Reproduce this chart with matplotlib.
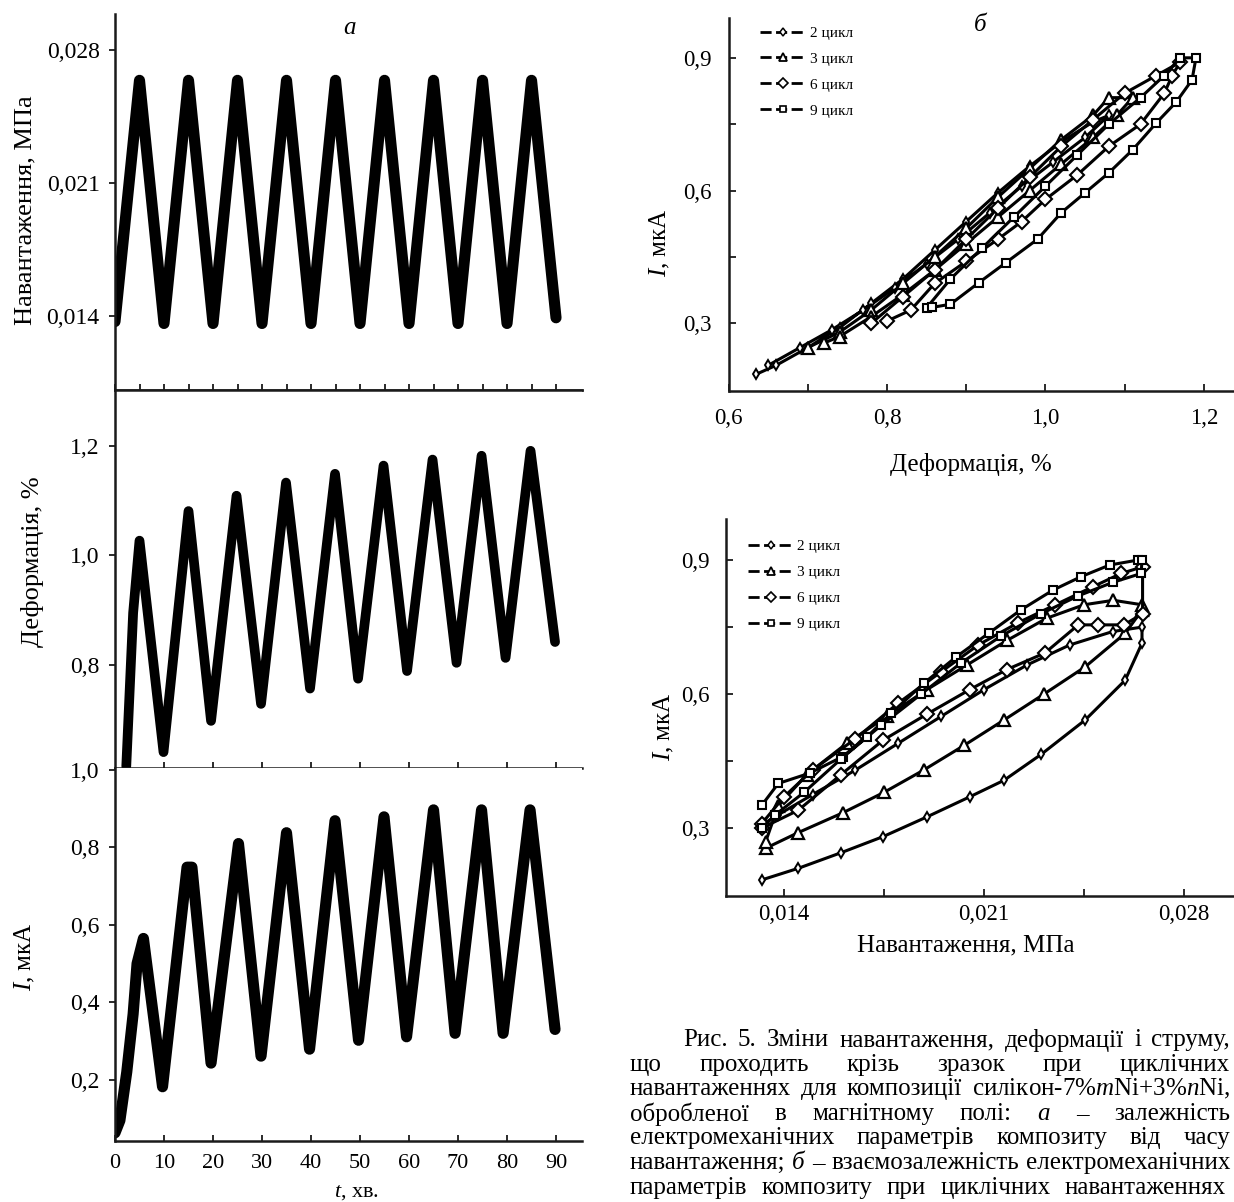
import matplotlib
matplotlib.use('Agg')
import matplotlib.pyplot as plt
from matplotlib.lines import Line2D

plt.rcParams['font.family'] = ['Liberation Serif', 'DejaVu Serif']
plt.rcParams['mathtext.fontset'] = 'custom'
plt.rcParams['mathtext.rm'] = 'Liberation Serif'
plt.rcParams['mathtext.it'] = 'Liberation Serif:italic'

W, H = 1234, 1202

# --- a: time series -------------------------------------------------------
t_load = [0, 5, 10, 15, 20, 25, 30, 35, 40, 45, 50, 55, 60, 65, 70, 75, 80, 85, 90]
load = [0.0137, 0.0264, 0.0136, 0.0264, 0.0136, 0.0264, 0.0136, 0.0264, 0.0136, 0.0264,
        0.0136, 0.0264, 0.0136, 0.0264, 0.0136, 0.0264, 0.0136, 0.0264, 0.0139]

t_def = [2.3, 3.7, 5.0, 9.9, 15.0, 19.6, 24.8, 29.8, 34.9, 39.8, 44.9, 49.6, 54.8,
         59.6, 64.8, 69.7, 74.8, 79.7, 84.8, 89.8]
deform = [0.615, 0.895, 1.027, 0.641, 1.081, 0.698, 1.109, 0.729, 1.133, 0.757, 1.149,
          0.775, 1.164, 0.789, 1.175, 0.804, 1.182, 0.813, 1.191, 0.842]

t_cur = [0, 1.0, 2.4, 3.7, 4.5, 5.8, 9.7, 14.7, 15.7, 19.6, 25.2, 29.8, 35.0, 39.7,
         44.9, 49.7, 54.9, 59.5, 65.0, 69.4, 74.8, 79.2, 84.7, 89.8]
current = [0.063, 0.095, 0.22, 0.37, 0.50, 0.565, 0.182, 0.749, 0.749, 0.243, 0.810,
           0.261, 0.838, 0.279, 0.869, 0.302, 0.879, 0.311, 0.897, 0.320, 0.897, 0.320,
           0.897, 0.33]

t_ticks = [0, 10, 20, 30, 40, 50, 60, 70, 80, 90]
t_minor = [0, 5, 10, 15, 20, 25, 30, 35, 40, 45, 50, 55, 60, 65, 70, 75, 80, 85, 90]
load_ticks = [0.014, 0.021, 0.028]
load_labels = ['0,014', '0,021', '0,028']
def_ticks = [0.8, 1.0, 1.2]
def_labels = ['0,8', '1,0', '1,2']
cur_ticks = [0.2, 0.4, 0.6, 0.8, 1.0]
cur_labels = ['0,2', '0,4', '0,6', '0,8', '1,0']

# --- б: I vs strain (loops: rising branch + falling branch) ---------------
eps_c2 = [0.635, 0.66, 0.70, 0.74, 0.78, 0.82, 0.86, 0.90, 0.94, 0.98, 1.02, 1.06, 1.08,
          1.05, 1.01, 0.97, 0.93, 0.89, 0.85, 0.81, 0.77, 0.73, 0.69, 0.65]
ie_c2 = [0.185, 0.205, 0.245, 0.29, 0.345, 0.40, 0.465, 0.53, 0.595, 0.655, 0.71, 0.755, 0.77,
         0.72, 0.665, 0.61, 0.55, 0.49, 0.435, 0.38, 0.33, 0.285, 0.245, 0.205]
eps_c3 = [0.70, 0.74, 0.78, 0.82, 0.86, 0.90, 0.94, 0.98, 1.02, 1.06, 1.08, 1.11,
          1.09, 1.06, 1.02, 0.98, 0.94, 0.90, 0.86, 0.82, 0.78, 0.74, 0.72]
ie_c3 = [0.245, 0.28, 0.33, 0.39, 0.45, 0.515, 0.585, 0.65, 0.715, 0.77, 0.81, 0.81,
         0.77, 0.72, 0.66, 0.60, 0.54, 0.48, 0.42, 0.365, 0.315, 0.27, 0.255]
eps_c6 = [0.78, 0.82, 0.86, 0.90, 0.94, 0.98, 1.02, 1.06, 1.10, 1.14, 1.17,
          1.16, 1.15, 1.12, 1.08, 1.04, 1.00, 0.97, 0.94, 0.90, 0.86, 0.83, 0.80]
ie_c6 = [0.30, 0.36, 0.42, 0.49, 0.56, 0.63, 0.70, 0.76, 0.82, 0.86, 0.89,
         0.86, 0.82, 0.75, 0.70, 0.635, 0.58, 0.53, 0.49, 0.44, 0.39, 0.33, 0.305]
eps_c9 = [0.85, 0.88, 0.92, 0.96, 1.00, 1.04, 1.08, 1.12, 1.15, 1.17, 1.19,
          1.185, 1.165, 1.14, 1.11, 1.08, 1.05, 1.02, 0.99, 0.95, 0.916, 0.88, 0.857]
ie_c9 = [0.335, 0.40, 0.47, 0.54, 0.61, 0.68, 0.75, 0.81, 0.86, 0.90, 0.90,
         0.85, 0.80, 0.753, 0.692, 0.64, 0.595, 0.55, 0.49, 0.437, 0.392, 0.343, 0.336]

# --- б: I vs load ----------------------------------------------------------
p_c2 = [0.01322, 0.0145, 0.0160, 0.01747, 0.0190, 0.0205, 0.0217, 0.0230, 0.02454, 0.02594, 0.02653,
        0.02653, 0.0255, 0.0240, 0.0225, 0.0210, 0.0195, 0.0180, 0.0165, 0.0150, 0.0138, 0.0133]
ip_c2 = [0.184, 0.21, 0.245, 0.281, 0.325, 0.37, 0.407, 0.465, 0.542, 0.631, 0.714,
         0.75, 0.74, 0.71, 0.665, 0.61, 0.55, 0.49, 0.43, 0.375, 0.33, 0.31]
p_c3 = [0.01336, 0.0145, 0.01605, 0.0175, 0.01889, 0.0203, 0.0217, 0.0231, 0.02454, 0.02594, 0.02653,
        0.02653, 0.02553, 0.0245, 0.0232, 0.0218, 0.0204, 0.0190, 0.0176, 0.0162, 0.0148, 0.0138, 0.01336]
ip_c3 = [0.255, 0.29, 0.334, 0.38, 0.43, 0.485, 0.542, 0.60, 0.661, 0.736, 0.788,
         0.80, 0.81, 0.80, 0.77, 0.72, 0.665, 0.61, 0.55, 0.49, 0.42, 0.35, 0.27]
p_c6 = [0.01322, 0.0145, 0.0160, 0.01747, 0.0190, 0.0205, 0.0218, 0.02313, 0.0243, 0.0250, 0.0259, 0.02655,
        0.02655, 0.0258, 0.0248, 0.0235, 0.0222, 0.0208, 0.0195, 0.0180, 0.0165, 0.0150, 0.0140, 0.01322]
ip_c6 = [0.30, 0.34, 0.42, 0.497, 0.555, 0.61, 0.655, 0.692, 0.755, 0.755, 0.755, 0.78,
         0.885, 0.87, 0.84, 0.80, 0.76, 0.71, 0.65, 0.58, 0.50, 0.43, 0.37, 0.31]
p_c9 = [0.01322, 0.0138, 0.0149, 0.01605, 0.0169, 0.01775, 0.01889, 0.02002, 0.02116, 0.02228, 0.02342,
        0.0244, 0.0254, 0.02638, 0.02653,
        0.0265, 0.0255, 0.0243, 0.0230, 0.0216, 0.0202, 0.0188, 0.0174, 0.0160, 0.0147, 0.0137, 0.01322]
ip_c9 = [0.351, 0.40, 0.423, 0.46, 0.504, 0.557, 0.624, 0.683, 0.736, 0.788, 0.833,
         0.863, 0.889, 0.90, 0.90,
         0.87, 0.85, 0.82, 0.78, 0.73, 0.67, 0.60, 0.53, 0.455, 0.38, 0.33, 0.30]

cycle_labels = ['2 цикл', '3 цикл', '6 цикл', '9 цикл']
eps_ticks = [0.6, 0.8, 1.0, 1.2]
eps_labels = ['0,6', '0,8', '1,0', '1,2']
eps_minor = [0.7, 0.9, 1.1]
i_ticks = [0.3, 0.6, 0.9]
i_labels = ['0,3', '0,6', '0,9']
i_minor = [0.45, 0.75]
p_ticks = [0.014, 0.021, 0.028]
p_labels = ['0,014', '0,021', '0,028']
p_minor = [0.0175, 0.0245]

caption = [
    'Рис. 5. Зміни навантаження, деформації і струму,',
    'що проходить крізь зразок при циклічних',
    'навантаженнях для композиції силікон-7%$m$Ni+3%$n$Ni,',
    'обробленої в магнітному полі: _а_ – залежність',
    'електромеханічних параметрів композиту від часу',
    'навантаження; _б_ – взаємозалежність електромеханічних',
    'параметрів композиту при циклічних навантаженнях',
]

INK = '#1a1a1a'
SPW = 1.8


def add_px_axes(fig, x0, y0, x1, y1):
    return fig.add_axes([x0 / W, 1 - y1 / H, (x1 - x0) / W, (y1 - y0) / H])


def style_left(ax, top=False):
    for s in ['top', 'right']:
        ax.spines[s].set_visible(False)
    if top:
        ax.spines['top'].set_visible(True)
    for s in ax.spines.values():
        s.set_linewidth(SPW)
        s.set_color(INK)
    ax.tick_params(axis='y', direction='out', length=4, width=1.3, pad=7,
                   labelsize=17, color=INK)
    ax.tick_params(axis='x', direction='in', length=4, width=1.3, color=INK)


def style_right(ax):
    for s in ['top', 'right']:
        ax.spines[s].set_visible(False)
    for s in ax.spines.values():
        s.set_linewidth(SPW)
        s.set_color(INK)
    ax.tick_params(which='both', direction='in', length=5, width=1.3, color=INK, labelsize=16.5)
    ax.tick_params(axis='y', which='both', pad=12)


fig = plt.figure(figsize=(W / 100, H / 100), dpi=100)

# top-left: load vs time
ax1 = add_px_axes(fig, 115, 14, 582, 390)
ax1.plot(t_load, load, color='k', lw=8, solid_joinstyle='round', solid_capstyle='round')
ax1.set_xlim(0, 95.3)
ax1.set_ylim(0.0101, 0.02989)
ax1.set_yticks(load_ticks)
ax1.set_yticklabels(load_labels)
ax1.set_xticks(t_minor)
ax1.set_xticklabels([])
style_left(ax1)

# middle-left: strain vs time
ax2 = add_px_axes(fig, 115, 390, 582, 768)
ax2.plot(t_def, deform, color='k', lw=7, solid_joinstyle='round', solid_capstyle='round')
ax2.set_xlim(0, 95.3)
ax2.set_ylim(0.612, 1.302)
ax2.set_yticks(def_ticks)
ax2.set_yticklabels(def_labels)
ax2.set_xticks(t_ticks[1:])
ax2.set_xticklabels([])
style_left(ax2, top=True)

# bottom-left: current vs time
ax3 = add_px_axes(fig, 115, 768, 582, 1141)
ax3.plot(t_cur, current, color='k', lw=8, solid_joinstyle='round', solid_capstyle='round')
ax3.set_xlim(0, 95.3)
ax3.set_ylim(0.042, 1.005)
ax3.set_yticks(cur_ticks)
ax3.set_yticklabels(cur_labels)
ax3.set_xticks(t_ticks)
ax3.set_xticklabels([str(t) for t in t_ticks])
style_left(ax3)
ax3.tick_params(axis='x', labelsize=16, pad=9)

markers = [dict(marker='d', ms=5.5, mfc='white', mew=1.4),
           dict(marker='^', ms=8, mfc='white', mew=1.6),
           dict(marker='D', ms=7, mfc='white', mew=1.5),
           dict(marker='s', ms=5.5, mfc='white', mew=1.5)]

# top-right: current vs strain
ax4 = add_px_axes(fig, 728.6, 18, 1234, 391)
for xs, ys, mk in zip([eps_c2, eps_c3, eps_c6, eps_c9], [ie_c2, ie_c3, ie_c6, ie_c9], markers):
    ax4.plot(xs, ys, color='k', lw=2.2, mec='k', **mk)
ax4.set_xlim(0.6, 1.238)
ax4.set_ylim(0.147, 0.990)
ax4.set_xticks(eps_ticks)
ax4.set_xticklabels(eps_labels)
ax4.set_xticks(eps_minor, minor=True)
ax4.set_yticks(i_ticks)
ax4.set_yticklabels(i_labels)
ax4.set_yticks(i_minor, minor=True)
style_right(ax4)
ax4.tick_params(axis='x', which='both', pad=12)

# bottom-right: current vs load
ax5 = add_px_axes(fig, 726, 519, 1234, 896)
for xs, ys, mk in zip([p_c2, p_c3, p_c6, p_c9], [ip_c2, ip_c3, ip_c6, ip_c9], markers):
    ax5.plot(xs, ys, color='k', lw=2.2, mec='k', **mk)
ax5.set_xlim(0.01197, 0.02975)
ax5.set_ylim(0.148, 0.992)
ax5.set_xticks(p_ticks)
ax5.set_xticklabels(p_labels)
ax5.set_xticks(p_minor, minor=True)
ax5.set_yticks(i_ticks)
ax5.set_yticklabels(i_labels)
ax5.set_yticks(i_minor, minor=True)
style_right(ax5)
ax5.tick_params(axis='x', which='both', pad=6)

legend_marks = [dict(marker='d', ms=4.5, mfc='white', mew=1.1),
                dict(marker='^', ms=6, mfc='white', mew=1.3),
                dict(marker='D', ms=5.5, mfc='white', mew=1.2),
                dict(marker='s', ms=4.5, mfc='white', mew=1.2)]
for ax, anchor in [(ax4, (0.062, 0.978)), (ax5, (0.043, 0.945))]:
    handles = [Line2D([], [], color='k', lw=2, ls=(0, (4, 1.6)), mec='k', **mk) for mk in legend_marks]
    ax.legend(handles, cycle_labels, loc='upper left', bbox_to_anchor=anchor, frameon=False,
              fontsize=11, handlelength=3.0, handletextpad=0.25, labelspacing=0.8,
              borderpad=0, borderaxespad=0)

# panel letters and axis titles
fig.text(350 / W, 1 - 28 / H, 'а', style='italic', fontsize=18, ha='center', va='center')
fig.text(980 / W, 1 - 25 / H, 'б', style='italic', fontsize=18, ha='center', va='center')
fig.text(25 / W, 1 - 210 / H, 'Навантаження, МПа', rotation=90, fontsize=19, ha='center', va='center')
fig.text(33 / W, 1 - 562 / H, 'Деформація, %', rotation=90, fontsize=19, ha='center', va='center')
fig.text(25 / W, 1 - 957 / H, '$I$, мкА', rotation=90, fontsize=18, ha='center', va='center')
fig.text(357 / W, 1 - 1193 / H, '$t$, хв.', fontsize=16, ha='center', va='center')
fig.text(660 / W, 1 - 243 / H, '$I$, мкА', rotation=90, fontsize=18, ha='center', va='center')
fig.text(971 / W, 1 - 465 / H, 'Деформація, %', fontsize=18, ha='center', va='center')
fig.text(664 / W, 1 - 727 / H, '$I$, мкА', rotation=90, fontsize=18, ha='center', va='center')
fig.text(966 / W, 1 - 945 / H, 'Навантаження, МПа', fontsize=18, ha='center', va='center')

# caption, justified word by word inside the figure
renderer = fig.canvas.get_renderer()
line_y0, line_step = 1040, 24.6
for i, line in enumerate(caption):
    words = line.split(' ')
    y = line_y0 + i * line_step
    x0 = 683 if i == 0 else 630
    x1 = 1226 if i == len(caption) - 1 else 1230
    texts = []
    for w in words:
        italic = w.startswith('_') and w.endswith('_')
        texts.append(fig.text(0, 1 - y / H, w.strip('_'), fontsize=18,
                              style='italic' if italic else 'normal', ha='left', va='center'))
    widths = [t.get_window_extent(renderer).width for t in texts]
    gap = max((x1 - x0 - sum(widths)) / (len(words) - 1), 3)
    x = x0
    for t, wd in zip(texts, widths):
        t.set_x(x / W)
        x += wd + gap

fig.savefig('out.png', dpi=100)
